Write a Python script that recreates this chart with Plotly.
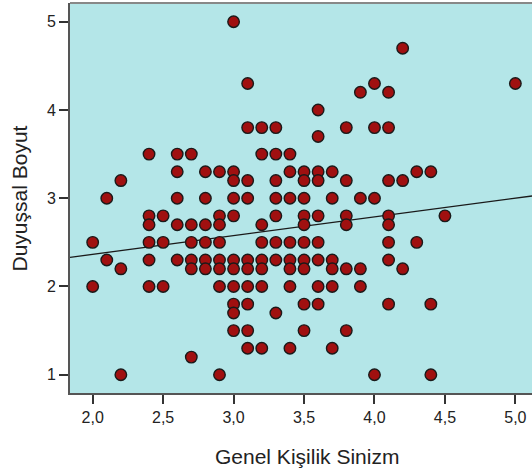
import plotly.graph_objects as go

# Scatter data: for each y level, the x values observed
rows = {
    5.0: [3.0],
    4.7: [4.2],
    4.3: [3.1, 4.0, 5.0],
    4.2: [3.9, 4.1],
    4.0: [3.6],
    3.8: [3.1, 3.2, 3.3, 3.8, 4.0, 4.1],
    3.7: [3.6],
    3.5: [2.4, 2.6, 2.7, 3.2, 3.3, 3.4],
    3.3: [2.6, 2.8, 2.9, 3.0, 3.4, 3.5, 3.6, 3.7, 4.3, 4.4],
    3.2: [2.2, 3.0, 3.1, 3.3, 3.5, 3.6, 3.8, 4.1, 4.2],
    3.0: [2.1, 2.6, 2.8, 3.0, 3.1, 3.3, 3.4, 3.5, 3.7, 3.9, 4.0],
    2.8: [2.4, 2.5, 2.9, 3.0, 3.3, 3.5, 3.6, 3.8, 4.1, 4.5],
    2.7: [2.4, 2.6, 2.7, 2.8, 2.9, 3.2, 3.5, 3.8, 4.1],
    2.5: [2.0, 2.4, 2.5, 2.7, 2.8, 2.9, 3.2, 3.3, 3.4, 3.5, 3.6, 4.1, 4.3],
    2.3: [2.1, 2.4, 2.6, 2.7, 2.8, 2.9, 3.0, 3.1, 3.2, 3.3, 3.4, 3.5, 3.6, 3.7, 4.1],
    2.2: [2.2, 2.7, 2.8, 2.9, 3.0, 3.1, 3.2, 3.4, 3.5, 3.7, 3.8, 3.9, 4.2],
    2.0: [2.0, 2.4, 2.5, 2.9, 3.0, 3.1, 3.2, 3.4, 3.6, 3.7, 3.9],
    1.8: [3.0, 3.1, 3.5, 3.6, 4.1, 4.4],
    1.7: [3.0, 3.3],
    1.5: [3.0, 3.1, 3.5, 3.8],
    1.3: [3.1, 3.2, 3.4, 3.7],
    1.2: [2.7],
    1.0: [2.2, 2.9, 4.0, 4.4],
}

x_vals = [x for y, xs in rows.items() for x in xs]
y_vals = [y for y, xs in rows.items() for x in xs]

# Fit line
fit_intercept = 1.94
fit_slope = 0.212

x_range = [1.839, 5.118]
y_range = [0.793, 5.212]

x_ticks = [2.0, 2.5, 3.0, 3.5, 4.0, 4.5, 5.0]
y_ticks = [1, 2, 3, 4, 5]

x_title = "Genel Kişilik Sinizm"
y_title = "Duyuşsal Boyut"

fig = go.Figure()
fig.add_trace(go.Scatter(
    x=[x_range[0], x_range[1]],
    y=[fit_intercept + fit_slope * x_range[0], fit_intercept + fit_slope * x_range[1]],
    mode="lines",
    line=dict(color="#1a1a1a", width=1.3),
    hoverinfo="skip",
    showlegend=False,
))
fig.add_trace(go.Scatter(
    x=x_vals, y=y_vals, mode="markers",
    marker=dict(size=11.5, color="#A01010",
                line=dict(color="#1a1a1a", width=1.4)),
    showlegend=False,
))

family = "Liberation Sans, Arial, sans-serif"
tick_font = dict(family=family, size=16, color="#222222")
title_font = dict(family=family, size=21, color="#222222")

fig.update_layout(
    width=532, height=476,
    margin=dict(l=70, r=0, t=3, b=83),
    plot_bgcolor="#B4E6E8",
    paper_bgcolor="white",
    separators=",.",
    font=tick_font,
    xaxis=dict(
        range=x_range, tickvals=x_ticks, tickformat=".1f",
        showgrid=False, zeroline=False,
        showline=True, linecolor="#555555", linewidth=2,
        ticks="outside", ticklen=9, tickwidth=1.5, tickcolor="#333333",
        tickfont=tick_font,
    ),
    yaxis=dict(
        range=y_range, tickvals=y_ticks, tickformat="d",
        showgrid=False, zeroline=False,
        showline=True, linecolor="#555555", linewidth=2,
        ticks="outside", ticklen=9, tickwidth=1.5, tickcolor="#333333",
        tickfont=tick_font,
    ),
    annotations=[
        dict(text=x_title, xref="paper", yref="paper", x=0.513, y=0,
             yshift=-50, xanchor="center", yanchor="top", showarrow=False,
             font=title_font),
        dict(text=y_title, xref="paper", yref="paper", x=0, y=0.5,
             xshift=-38, xanchor="right", yanchor="middle", textangle=-90,
             showarrow=False, font=title_font),
    ],
)
fig.add_shape(type="line", xref="paper", yref="paper", x0=0, x1=1, y0=1, y1=1,
              line=dict(color="#888888", width=2))

fig.write_html("out.html")
